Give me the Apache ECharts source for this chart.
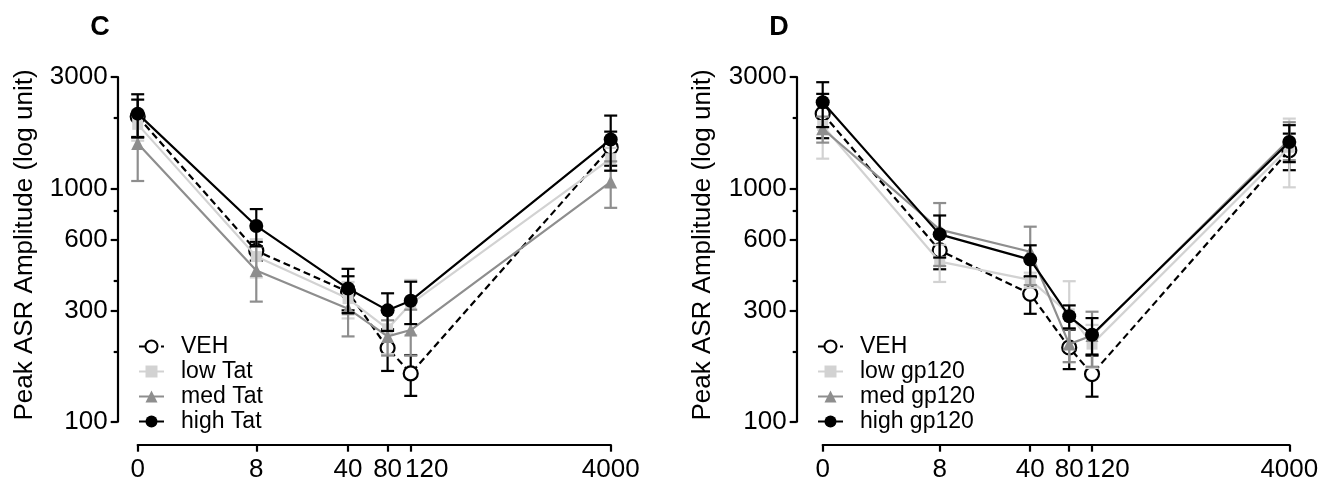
<!DOCTYPE html>
<html>
<head>
<meta charset="utf-8">
<title>Peak ASR Amplitude</title>
<script src="https://cdn.jsdelivr.net/npm/echarts@6/dist/echarts.min.js"></script>
<style>
  html, body { margin: 0; padding: 0; background: #fff; }
  #chart { width: 1337px; height: 485px; }
</style>
</head>
<body>
<div id="chart"></div>
<script>
// Prepulse conditions on the x axis (log scale; the 0 condition sits at 1)
const doses = [0, 8, 40, 80, 120, 4000];
const xTickLabels = ['0', '8', '40', '80', '120', '4000'];
const yMajorTicks = [100, 300, 600, 1000, 3000];
const yMinorTicks = [200, 400, 800, 2000];

// Panel C: Tat groups, mean and SEM
const tatVehMean  = [2030, 540, 360, 207, 161, 1500];
const tatVehSem   = [370, 50, 60, 42, 32, 250];
const tatLowMean  = [1880, 510, 337, 250, 320, 1340];
const tatLowSem   = [280, 95, 60, 55, 85, 150];
const tatMedMean  = [1555, 445, 305, 232, 247, 1065];
const tatMedSem   = [480, 118, 73, 40, 55, 240];
const tatHighMean = [2090, 690, 372, 300, 330, 1620];
const tatHighSem  = [440, 125, 80, 55, 68, 430];

// Panel D: gp120 groups, mean and SEM
const gpVehMean  = [2090, 542, 353, 208, 160, 1456];
const gpVehSem   = [450, 92, 63, 40, 32, 260];
const gpLowMean  = [1860, 485, 405, 290, 215, 1500];
const gpLowSem   = [520, 88, 30, 110, 45, 490];
const gpMedMean  = [1800, 665, 535, 215, 234, 1620];
const gpMedSem   = [230, 200, 150, 35, 62, 300];
const gpHighMean = [2340, 635, 495, 283, 236, 1580];
const gpHighSem  = [510, 130, 75, 32, 42, 285];

const FONT = 'Liberation Sans';
const BLACK = '#000000';
const LIGHT = '#d2d2d2';
const MID = '#8e8e8e';
const LW = 2.2;

// both axes are logarithmic: values are carried as log10 on value axes
const lg = v => Math.log10(v);
const xOf = d => lg(Math.max(d, 1));
const xTickPos = doses.map(xOf);

// the "120" label is nudged right so it clears "80"
function xLabel(v) {
  for (let i = 0; i < xTickPos.length; i++) {
    if (Math.abs(xTickPos[i] - v) < 1e-6) {
      return xTickLabels[i] === '120' ? '{shift|' + xTickLabels[i] + '}' : xTickLabels[i];
    }
  }
  return '';
}

function makeAxes(gridIndex, yOffset) {
  const xAxis = {
    type: 'value', gridIndex,
    min: xOf(doses[0]), max: xOf(doses[doses.length - 1]),
    offset: 23,
    splitLine: { show: false },
    axisLine: { show: true, onZero: false, lineStyle: { color: BLACK, width: LW } },
    axisTick: { show: true, length: 7, lineStyle: { color: BLACK, width: LW }, customValues: xTickPos },
    axisLabel: { show: true, customValues: xTickPos, formatter: xLabel,
      color: BLACK, fontFamily: FONT, fontSize: 26, margin: 12,
      rich: { shift: { fontFamily: FONT, fontSize: 26, color: BLACK, padding: [0, 0, 0, 32] } } }
  };
  const yRange = { min: lg(yMajorTicks[0]), max: lg(yMajorTicks[yMajorTicks.length - 1]) };
  const yMajor = Object.assign({
    type: 'value', gridIndex, position: 'left', offset: yOffset,
    splitLine: { show: false },
    axisLine: { show: true, onZero: false, lineStyle: { color: BLACK, width: LW } },
    axisTick: { show: true, length: 7, lineStyle: { color: BLACK, width: LW }, customValues: yMajorTicks.map(lg) },
    axisLabel: { show: true, customValues: yMajorTicks.map(lg),
      formatter: v => String(Math.round(Math.pow(10, v))),
      color: BLACK, fontFamily: FONT, fontSize: 26, margin: 10 }
  }, yRange);
  const yMinor = Object.assign({
    type: 'value', gridIndex, position: 'left', offset: yOffset,
    splitLine: { show: false },
    axisLine: { show: false, onZero: false },
    axisTick: { show: true, length: 4, lineStyle: { color: BLACK, width: LW }, customValues: yMinorTicks.map(lg) },
    axisLabel: { show: false }
  }, yRange);
  return { xAxis, yAxes: [yMajor, yMinor] };
}

function errorBars(name, means, sems, color, axisIdx, z) {
  return {
    type: 'custom', name: name + ' SEM',
    xAxisIndex: axisIdx, yAxisIndex: axisIdx * 2,
    z, silent: true,
    data: doses.map((d, i) => [xOf(d), lg(means[i] - sems[i]), lg(means[i] + sems[i])]),
    encode: { x: 0, y: [1, 2] },
    renderItem: (params, api) => {
      const x = api.value(0);
      const lo = api.coord([x, api.value(1)]);
      const hi = api.coord([x, api.value(2)]);
      const half = 6.5;
      const st = { stroke: color, lineWidth: LW };
      return {
        type: 'group',
        children: [
          { type: 'line', shape: { x1: lo[0], y1: lo[1], x2: hi[0], y2: hi[1] }, style: st },
          { type: 'line', shape: { x1: hi[0] - half, y1: hi[1], x2: hi[0] + half, y2: hi[1] }, style: st },
          { type: 'line', shape: { x1: lo[0] - half, y1: lo[1], x2: lo[0] + half, y2: lo[1] }, style: st }
        ]
      };
    }
  };
}

function lineSeries(name, means, style, axisIdx, z) {
  return {
    type: 'line', name,
    xAxisIndex: axisIdx, yAxisIndex: axisIdx * 2,
    z,
    data: doses.map((d, i) => [xOf(d), lg(means[i])]),
    symbol: style.symbol, symbolSize: style.size,
    showAllSymbol: true,
    lineStyle: { color: style.line, width: LW, type: style.dash ? [7, 4] : 'solid' },
    itemStyle: style.item,
    emphasis: { disabled: true }
  };
}

const styles = {
  veh:  { symbol: 'circle', size: 14, line: BLACK, dash: true,
          item: { color: '#ffffff', borderColor: BLACK, borderWidth: LW } },
  low:  { symbol: 'rect', size: 11, line: LIGHT, item: { color: LIGHT } },
  med:  { symbol: 'triangle', size: 13, line: MID, item: { color: MID } },
  high: { symbol: 'circle', size: 14, line: BLACK, item: { color: BLACK } }
};

function panelSeries(axisIdx, names, groups) {
  const out = [];
  const keys = ['veh', 'low', 'med', 'high'];
  keys.forEach((k, i) => {
    const g = groups[i];
    const color = styles[k].line;
    out.push(errorBars(names[i], g[0], g[1], color, axisIdx, 2 + i * 2));
    out.push(lineSeries(names[i], g[0], styles[k], axisIdx, 3 + i * 2));
  });
  return out;
}

const tatNames = ['VEH', 'low Tat', 'med Tat', 'high Tat'];
const gpNames = ['VEH', 'low gp120', 'med gp120', 'high gp120'];

const axC = makeAxes(0, 20);
const axD = makeAxes(1, 26);

const series = []
  .concat(panelSeries(0, tatNames, [
    [tatVehMean, tatVehSem], [tatLowMean, tatLowSem],
    [tatMedMean, tatMedSem], [tatHighMean, tatHighSem]]))
  .concat(panelSeries(1, gpNames, [
    [gpVehMean, gpVehSem], [gpLowMean, gpLowSem],
    [gpMedMean, gpMedSem], [gpHighMean, gpHighSem]]));

function legendFor(left, names) {
  return {
    left, top: 335, orient: 'vertical', padding: 0,
    data: names, selectedMode: false,
    itemWidth: 25, itemHeight: 15, itemGap: 2,
    textStyle: { color: BLACK, fontFamily: FONT, fontSize: 23, padding: [0, 0, 0, 12] }
  };
}

const yTitle = 'Peak ASR Amplitude (log unit)';

const option = {
  animation: false,
  backgroundColor: '#ffffff',
  grid: [
    { left: 137.7, top: 77, width: 473, height: 344.7 },
    { left: 822.7, top: 77, width: 466.6, height: 344.7 }
  ],
  xAxis: [axC.xAxis, axD.xAxis],
  yAxis: axC.yAxes.concat(axD.yAxes),
  legend: [legendFor(138, tatNames), legendFor(817, gpNames)],
  series,
  graphic: [
    { type: 'text', x: 100, y: 28, style: { text: 'C', font: 'bold 27px ' + FONT, fill: BLACK, align: 'center', verticalAlign: 'middle' } },
    { type: 'text', x: 779, y: 28, style: { text: 'D', font: 'bold 27px ' + FONT, fill: BLACK, align: 'center', verticalAlign: 'middle' } },
    { type: 'text', x: 25, y: 245, rotation: Math.PI / 2, style: { text: yTitle, font: '26px ' + FONT, fill: BLACK, align: 'center', verticalAlign: 'middle' } },
    { type: 'text', x: 703, y: 245, rotation: Math.PI / 2, style: { text: yTitle, font: '26px ' + FONT, fill: BLACK, align: 'center', verticalAlign: 'middle' } }
  ]
};

const chart = echarts.init(document.getElementById('chart'), null, { renderer: 'canvas' });
chart.setOption(option);
</script>
</body>
</html>
